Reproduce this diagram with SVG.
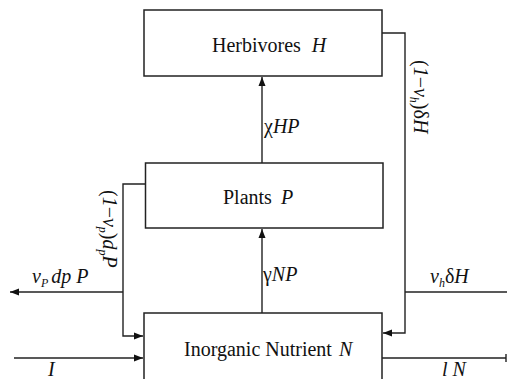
<svg xmlns="http://www.w3.org/2000/svg" width="507" height="379" viewBox="0 0 507 379" font-family="'Liberation Serif', 'DejaVu Serif', serif">
<defs>
<marker id="ah" markerWidth="10" markerHeight="8" refX="9" refY="4" orient="auto" markerUnits="userSpaceOnUse">
<path d="M0,0.5 L9,4 L0,7.5 Z" fill="#111"/>
</marker>
<style>
.box{fill:#fff;stroke:#222;stroke-width:1.5}
.ln{fill:none;stroke:#222;stroke-width:1.4}
.t{font-family:'Liberation Serif','DejaVu Serif',serif;fill:#111;font-size:20px}
.it{font-style:italic}
.sub{font-size:12px;font-style:italic}
</style>
</defs>
<g id="connectors">
<path class="ln" d="M262,163 V77" marker-end="url(#ah)"/>
<path class="ln" d="M262,313 V229" marker-end="url(#ah)"/>
<path class="ln" d="M145,184 H123 V336 H143" marker-end="url(#ah)"/>
<path class="ln" d="M123,292 H10" marker-end="url(#ah)"/>
<path class="ln" d="M382,33 H405 V333 H383" marker-end="url(#ah)"/>
<path class="ln" d="M405,292 H507"/>
<path class="ln" d="M14,358 H143" marker-end="url(#ah)"/>
<path class="ln" d="M382,358 H506 M506,354 V362"/>
<text class="t" x="264" y="133"><tspan>χ</tspan><tspan class="it">HP</tspan></text>
<text class="t" x="263" y="281"><tspan>γ</tspan><tspan class="it">NP</tspan></text>
<text class="t" x="32" y="283"><tspan class="it">v</tspan><tspan class="sub" dy="4">P</tspan><tspan class="it" dy="-4" dx="3">dp P</tspan></text>
<text class="t" x="430" y="283"><tspan class="it">v</tspan><tspan class="sub" dy="4">h</tspan><tspan dy="-4">δ</tspan><tspan class="it">H</tspan></text>
<text class="t it" x="48" y="376">I</text>
<text class="t it" x="442" y="376">l N</text>
<text class="t" transform="translate(414,60) rotate(90)"><tspan>(</tspan><tspan class="it">1</tspan><tspan>−</tspan><tspan class="it">v</tspan><tspan class="sub" dy="4">h</tspan><tspan dy="-4">)δ</tspan><tspan class="it">H</tspan></text>
<text class="t" transform="translate(103,190) rotate(90)"><tspan>(</tspan><tspan class="it">1</tspan><tspan>−</tspan><tspan class="it">v</tspan><tspan class="sub" dy="4">p</tspan><tspan dy="-4">)</tspan><tspan class="it">d</tspan><tspan class="sub" dy="4">p</tspan><tspan class="it" dy="-4">P</tspan></text>
</g>
<g id="herbivores">
<rect class="box" x="144" y="10" width="238" height="66"/>
<text class="t" x="212" y="52">Herbivores <tspan class="it" dx="6">H</tspan></text>
</g>
<g id="plants">
<rect class="box" x="145.5" y="163" width="237.5" height="65"/>
<text class="t" x="223" y="204">Plants <tspan class="it" dx="4">P</tspan></text>
</g>
<g id="nutrient">
<rect class="box" x="144" y="313" width="238" height="80"/>
<text class="t" x="184" y="356">Inorganic Nutrient <tspan class="it" dx="2">N</tspan></text>
</g>
</svg>
